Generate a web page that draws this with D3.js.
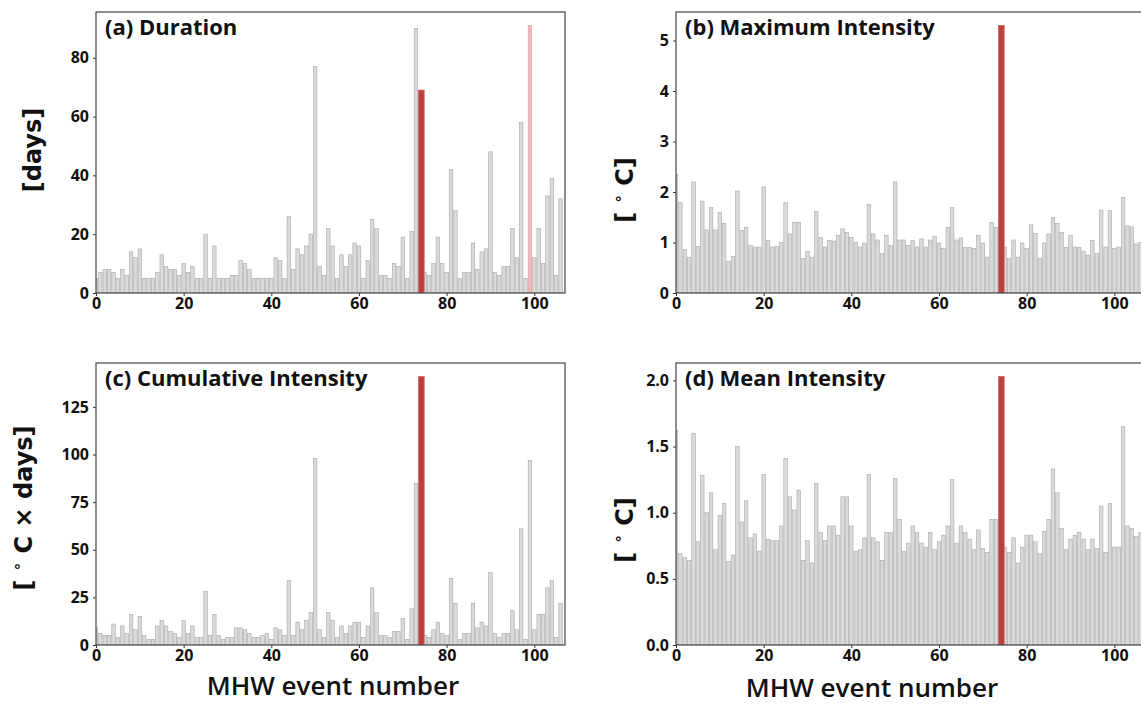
<!DOCTYPE html>
<html>
<head>
<meta charset="utf-8">
<script src="https://cdn.jsdelivr.net/npm/d3@7"></script>
<style>
  body { margin: 0; background: #fff; }
  svg text { font-family: "Open Sans", "Noto Sans", sans-serif; font-weight: 700; fill: #111; }
  .ylab { font-family: "DejaVu Sans", sans-serif; }
</style>
</head>
<body>
<svg id="chart" width="1141" height="723"></svg>
<script>
////////////////////////////  Data  ////////////////////////////
// one value per MHW event, event number = index
const duration = [
  5, 7, 8, 8, 7, 5, 8, 6, 14, 12,
  15, 5, 5, 5, 7, 13, 9, 8, 8, 6,
  10, 7, 9, 5, 5, 20, 5, 16, 5, 5,
  5, 6, 6, 11, 10, 8, 5, 5, 5, 5,
  5, 12, 11, 5, 26, 8, 15, 13, 16, 20,
  77, 9, 6, 22, 16, 5, 13, 9, 13, 17,
  16, 5, 11, 25, 22, 6, 6, 5, 10, 9,
  19, 5, 21, 90, 69, 7, 6, 10, 19, 10,
  7, 42, 28, 5, 7, 7, 17, 8, 14, 15,
  48, 7, 6, 9, 9, 22, 12, 58, 5, 91,
  12, 22, 10, 33, 39, 6, 32
];
const maxIntensity = [
  2.35, 1.79, 0.86, 0.71, 2.2, 0.92, 1.82, 1.25, 1.69, 1.25,
  1.6, 1.38, 0.63, 0.72, 2.02, 1.24, 1.3, 0.94, 0.91, 0.91,
  2.1, 1.04, 0.91, 0.92, 1.0, 1.79, 1.17, 1.4, 1.4, 0.68,
  0.83, 0.71, 1.61, 1.1, 0.91, 1.04, 1.03, 1.14, 1.27, 1.2,
  1.1, 1.0, 0.91, 0.99, 1.75, 1.17, 1.05, 0.78, 1.14, 0.94,
  2.2, 1.05, 1.05, 0.94, 1.04, 0.91, 1.07, 0.91, 1.05, 1.12,
  0.99, 0.88, 1.3, 1.69, 1.05, 1.09, 0.9, 0.9, 0.88, 1.14,
  0.99, 0.71, 1.4, 1.3, 5.3, 0.91, 0.68, 1.05, 0.71, 0.99,
  0.88, 1.35, 1.18, 0.68, 0.99, 1.17, 1.5, 1.38, 1.2, 0.9,
  1.14, 0.91, 0.9, 0.83, 0.75, 1.04, 0.78, 1.64, 0.91, 1.63,
  0.88, 0.91, 1.89, 1.33, 1.31, 0.97, 1.0
];
const cumIntensity = [
  9, 6, 5, 5, 11, 4, 10, 6, 16, 8,
  15, 5, 3, 3, 10, 13, 10, 7, 6, 4,
  13, 6, 10, 4, 4, 28, 5, 16, 5, 3,
  4, 4, 9, 9, 8, 6, 4, 4, 5, 6,
  3, 9, 8, 5, 34, 5, 12, 8, 13, 17,
  98, 8, 4, 17, 13, 4, 10, 6, 10, 12,
  12, 4, 10, 30, 17, 5, 5, 4, 7, 7,
  14, 3, 19, 85, 141, 5, 4, 8, 12, 6,
  5, 35, 22, 3, 6, 6, 22, 9, 12, 10,
  38, 6, 4, 6, 6, 18, 8, 61, 3, 97,
  8, 16, 16, 30, 34, 4, 22
];
const meanIntensity = [
  1.62, 0.69, 0.66, 0.64, 1.6, 0.78, 1.28, 1.0, 1.15, 0.72,
  0.98, 1.07, 0.63, 0.68, 1.5, 0.93, 1.09, 0.81, 0.84, 0.71,
  1.29, 0.8, 0.79, 0.79, 0.9, 1.41, 1.12, 1.02, 1.17, 0.64,
  0.79, 0.62, 1.22, 0.85, 0.79, 0.9, 0.9, 0.83, 1.12, 1.12,
  0.9, 0.71, 0.72, 0.81, 1.29, 0.81, 0.78, 0.64, 0.85, 0.85,
  1.26, 0.95, 0.71, 0.77, 0.9, 0.85, 0.77, 0.74, 0.85, 0.72,
  0.78, 0.83, 0.9, 1.25, 0.77, 0.9, 0.85, 0.8, 0.72, 0.87,
  0.73, 0.7, 0.95, 0.95, 2.03, 0.74, 0.7, 0.81, 0.62, 0.74,
  0.83, 0.83, 0.78, 0.69, 0.86, 0.95, 1.33, 1.15, 0.88, 0.72,
  0.8, 0.83, 0.85, 0.8, 0.72, 0.8, 0.73, 1.05, 0.7, 1.07,
  0.74, 0.74, 1.65, 0.9, 0.88, 0.82, 0.85
];

const highlightEvent = 74;   // red bar, all panels
const secondEvent = 99;      // pale red bar, duration only

const xTicks = [0, 20, 40, 60, 80, 100];
const durationTicks = [0, 20, 40, 60, 80];
const maxTicks = [0, 1, 2, 3, 4, 5];
const cumTicks = [0, 25, 50, 75, 100, 125];
const meanTicks = [0, 0.5, 1.0, 1.5, 2.0];

const titles = ["(a) Duration", "(b) Maximum Intensity", "(c) Cumulative Intensity", "(d) Mean Intensity"];

////////////////////////////  Layout  ////////////////////////////
const svg = d3.select("#chart");

const panels = [
  { values: duration, ticks: durationTicks, fmt: d3.format("d"), ylabel: ["[days]"], box: [96, 12, 565, 293], ylab: [41, 150], second: true },
  { values: maxIntensity, ticks: maxTicks, fmt: d3.format("d"), ylabel: ["[ ", "∘", " C]"], box: [676, 12, 1145, 293], ylab: [633, 190] },
  { values: cumIntensity, ticks: cumTicks, fmt: d3.format("d"), ylabel: ["[ ", "∘", " C × days]"], box: [96, 363, 565, 645], ylab: [32, 508] },
  { values: meanIntensity, ticks: meanTicks, fmt: d3.format(".1f"), ylabel: ["[ ", "∘", " C]"], box: [676, 363, 1145, 645], ylab: [633, 530] },
];

panels.forEach((p, k) => {
  const [x0, y0, x1, y1] = p.box;
  const x = d3.scaleLinear().domain([0, 107]).range([x0, x1]);
  const y = d3.scaleLinear().domain([0, d3.max(p.values) * 1.05]).range([y1, y0]);
  const bw = x(0.8) - x(0);

  const g = svg.append("g");
  const clipId = "clip" + k;
  g.append("clipPath").attr("id", clipId)
    .append("rect").attr("x", x0).attr("y", y0).attr("width", x1 - x0).attr("height", y1 - y0);

  const bars = g.append("g").attr("clip-path", `url(#${clipId})`);

  // gray bars
  bars.selectAll("rect.bar")
    .data(p.values.map((v, i) => ({ v, i })).filter(d => d.i !== highlightEvent && !(p.second && d.i === secondEvent)))
    .enter()
    .append("rect")
    .attr("class", "bar")
    .attr("x", d => x(d.i) - bw / 2)
    .attr("y", d => y(d.v))
    .attr("width", bw)
    .attr("height", d => y(0) - y(d.v))
    .attr("fill", "#dadada")
    .attr("stroke", "#a8a8a8")
    .attr("stroke-width", 0.6);

  // pale red bar (duration only)
  if (p.second) {
    const v2 = p.values[secondEvent];
    bars.append("rect")
      .attr("x", x(secondEvent) - bw / 2)
      .attr("y", y(v2))
      .attr("width", bw)
      .attr("height", y(0) - y(v2))
      .attr("fill", "#efb9bd")
      .attr("stroke", "#e59aa0")
      .attr("stroke-width", 0.6);
  }

  // red bar
  const vh = p.values[highlightEvent];
  const rw = x(1.3) - x(0);
  bars.append("rect")
    .attr("x", x(highlightEvent) - rw / 2 + 1)
    .attr("y", y(vh))
    .attr("width", rw)
    .attr("height", y(0) - y(vh))
    .attr("fill", "#b8403e")
    .attr("stroke", "#e0605c")
    .attr("stroke-width", 0.8);

  // axes
  const xAxis = g.append("g")
    .attr("transform", `translate(0,${y1})`)
    .call(d3.axisBottom(x).tickValues(xTicks).tickSize(3).tickSizeOuter(0).tickPadding(2));
  xAxis.select(".domain").remove();
  xAxis.selectAll("text").style("font-size", "16px");
  xAxis.selectAll("line").attr("stroke", "#333");

  const yAxis = g.append("g")
    .attr("transform", `translate(${x0},0)`)
    .call(d3.axisLeft(y).tickValues(p.ticks).tickFormat(p.fmt).tickSize(3).tickSizeOuter(0).tickPadding(4));
  yAxis.select(".domain").remove();
  yAxis.selectAll("text").style("font-size", "16px");
  yAxis.selectAll("line").attr("stroke", "#333");

  // frame
  g.append("rect")
    .attr("x", x0).attr("y", y0)
    .attr("width", x1 - x0).attr("height", y1 - y0)
    .attr("fill", "none")
    .attr("stroke", "#444")
    .attr("stroke-width", 1.2);

  // title inside
  g.append("text")
    .attr("x", x0 + 9)
    .attr("y", y0 + 23)
    .style("font-size", "22px")
    .text(titles[k]);

  // y label
  const yl = g.append("text")
    .attr("class", "ylab")
    .attr("transform", `translate(${p.ylab[0]},${p.ylab[1]}) rotate(-90)`)
    .attr("text-anchor", "middle")
    .style("font-size", "24px");
  if (p.ylabel.length === 1) {
    yl.text(p.ylabel[0]);
  } else {
    yl.append("tspan").text(p.ylabel[0]);
    yl.append("tspan").attr("dy", -10).style("font-size", "15px").text(p.ylabel[1]);
    yl.append("tspan").attr("dy", 10).text(p.ylabel[2]);
  }
});

// x labels
[[333, 695], [872, 697]].forEach(([cx, cy]) => {
  svg.append("text")
    .attr("x", cx)
    .attr("y", cy)
    .attr("text-anchor", "middle")
    .style("font-size", "26px")
    .style("font-weight", 600)
    .text("MHW event number");
});
</script>
</body>
</html>
